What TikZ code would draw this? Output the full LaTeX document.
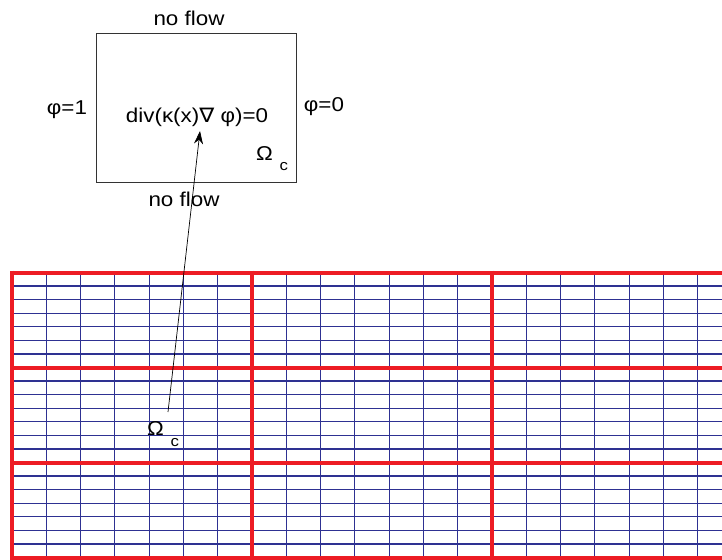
\documentclass[tikz,border=0pt]{standalone}
\usepackage{fontspec}
\setmainfont{Liberation Sans}
\newfontfamily\symfont{DejaVu Sans}
\usetikzlibrary{arrows.meta}
\definecolor{meshblue}{HTML}{2E3192}
\definecolor{meshred}{HTML}{ED1C24}

\begin{document}
\begin{tikzpicture}[x=1pt,y=-1pt,every node/.style={font=\fontsize{20}{24}\selectfont,inner sep=0pt,anchor=base,xscale=1.12}]
\useasboundingbox (0,0) rectangle (722,559);
\clip (0,0) rectangle (722,559);
% fine mesh, then the coarse blocks on top
\foreach \i in {0,...,21} {
  \draw[meshblue,line width=1.2pt] (12,{272.5+\i*95/7}) -- (722,{272.5+\i*95/7});
  \draw[meshblue,line width=1.2pt] ({12+\i*240/7},272.5) -- ({12+\i*240/7},559);
}
\foreach \i in {0,...,3} {
  \draw[meshred,line width=4pt] (10,{272.5+\i*95}) -- (722,{272.5+\i*95});
  \draw[meshred,line width=4pt] ({12+\i*240},270.5) -- ({12+\i*240},559);
}
% cell problem
\draw[black!80,line width=0.9pt] (96,33.5) rectangle (296,182.5);
\node (top) at (189,26) {no flow};
\node (bottom) at (184,206) {no flow};
\node (left) at (67,114) {φ=1};
\node (right) at (324,111) {φ=0};
\node (eq) at (197,123) {div(κ(x){\symfont ∇} φ)=0};
\node (cell) at (272,160) {Ω\hspace{6pt}\raisebox{-10pt}{\fontsize{15}{18}\selectfont c}};
\node (zoomcell) at (163,435) {Ω\hspace{6pt}\raisebox{-11pt}{\fontsize{15}{18}\selectfont c}};
\coordinate (from) at (168,412);
\coordinate (to) at (200,131);
\draw[-{Stealth[length=13pt,width=9pt]},line width=0.7pt] (from) -- (to);
\end{tikzpicture}
\end{document}
